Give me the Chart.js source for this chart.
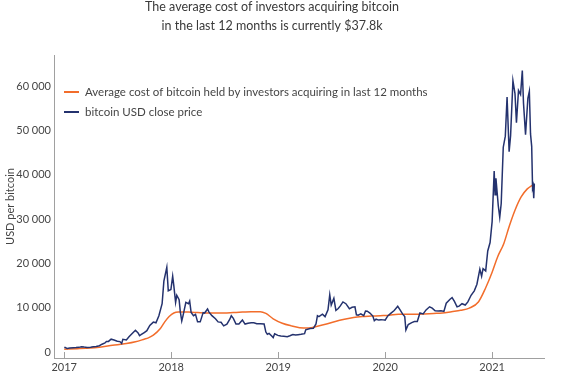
<!DOCTYPE html>
<html>
<head>
<meta charset="utf-8">
<script src="https://cdn.jsdelivr.net/npm/chart.js@4/dist/chart.umd.min.js"></script>
<style>
  html, body { margin: 0; padding: 0; background: #ffffff; }
  #wrap { width: 562px; height: 377px; position: relative; }
</style>
</head>
<body>
<div id="wrap"><canvas id="c" width="562" height="377"></canvas></div>
<script>
// ---------- DATA ----------
const titleLines = ["The average cost of investors acquiring bitcoin", "in the last 12 months is currently $37.8k"];
const yAxisTitle = "USD per bitcoin";
const seriesNames = ["Average cost of bitcoin held by investors acquiring in last 12 months", "bitcoin USD close price"];
const yearLabels = ["2017", "2018", "2019", "2020", "2021"];
const yTickValues = [0, 10000, 20000, 30000, 40000, 50000, 60000];

const btcDates = [
  "2017-01-01","2017-01-05","2017-01-11","2017-01-20","2017-02-01","2017-02-10","2017-02-20","2017-03-01","2017-03-10","2017-03-20",
  "2017-04-01","2017-04-10","2017-04-20","2017-05-01","2017-05-10","2017-05-20","2017-05-25","2017-06-01","2017-06-10","2017-06-20",
  "2017-07-01","2017-07-10","2017-07-16","2017-07-20","2017-08-01","2017-08-10","2017-08-20","2017-09-01","2017-09-10","2017-09-15",
  "2017-09-20","2017-10-01","2017-10-10","2017-10-20","2017-11-01","2017-11-10","2017-11-20","2017-12-01","2017-12-07","2017-12-17",
  "2017-12-22","2017-12-31",
  "2018-01-06","2018-01-10","2018-01-16","2018-01-20","2018-01-28","2018-02-01","2018-02-06","2018-02-10","2018-02-20","2018-03-01",
  "2018-03-05","2018-03-10","2018-03-18","2018-03-25","2018-04-01","2018-04-10","2018-04-20","2018-04-25","2018-05-05","2018-05-10",
  "2018-05-20","2018-06-01","2018-06-10","2018-06-20","2018-06-29","2018-07-10","2018-07-20","2018-07-25","2018-08-01","2018-08-10",
  "2018-08-20","2018-09-01","2018-09-10","2018-09-20","2018-10-01","2018-10-10","2018-10-20","2018-11-01","2018-11-14","2018-11-20",
  "2018-11-25","2018-12-01","2018-12-10","2018-12-15","2018-12-20","2018-12-31",
  "2019-01-10","2019-01-20","2019-02-01","2019-02-10","2019-02-20","2019-03-01","2019-03-10","2019-03-20","2019-04-01","2019-04-05",
  "2019-04-20","2019-05-01","2019-05-10","2019-05-15","2019-05-20","2019-06-01","2019-06-10","2019-06-20","2019-06-26","2019-07-01",
  "2019-07-10","2019-07-17","2019-07-25","2019-08-01","2019-08-10","2019-08-20","2019-09-01","2019-09-10","2019-09-20","2019-09-25",
  "2019-10-01","2019-10-10","2019-10-20","2019-10-26","2019-11-01","2019-11-10","2019-11-20","2019-11-25","2019-12-01","2019-12-10",
  "2019-12-18","2019-12-25",
  "2020-01-01","2020-01-10","2020-01-20","2020-02-01","2020-02-13","2020-02-20","2020-03-01","2020-03-08","2020-03-12","2020-03-20",
  "2020-04-01","2020-04-10","2020-04-20","2020-04-29","2020-05-10","2020-05-20","2020-06-01","2020-06-10","2020-06-20","2020-07-01",
  "2020-07-10","2020-07-20","2020-07-28","2020-08-10","2020-08-17","2020-08-25","2020-09-03","2020-09-10","2020-09-20","2020-10-01",
  "2020-10-10","2020-10-21","2020-11-01","2020-11-10","2020-11-20","2020-11-26","2020-12-01","2020-12-10","2020-12-17","2020-12-25",
  "2021-01-01","2021-01-08","2021-01-11","2021-01-14","2021-01-22","2021-01-27","2021-02-01","2021-02-08","2021-02-15","2021-02-21",
  "2021-02-28","2021-03-05","2021-03-13","2021-03-20","2021-03-25","2021-04-01","2021-04-08","2021-04-14","2021-04-18","2021-04-25",
  "2021-05-03","2021-05-08","2021-05-12","2021-05-16","2021-05-19","2021-05-21","2021-05-23","2021-05-25"
];
const btcClose = [
  998,1013,777,895,970,995,1050,1190,1110,1040,
  1080,1210,1240,1420,1760,2040,2400,2400,2900,2700,
  2420,2350,1930,2850,2720,3430,4100,4900,4300,3700,
  3900,4400,4800,6000,6750,6600,8200,10900,16000,19100,
  13800,14100,
  17100,14900,11200,12800,11800,9100,7000,8100,11200,10900,
  11500,8900,8200,8500,6800,6800,8900,8800,9700,9000,
  8200,7500,6800,6700,5900,6300,7400,8200,7600,6300,
  6300,7200,6300,6500,6600,6600,6400,6350,6300,4500,
  4000,4200,3600,3250,4100,3750,
  3600,3540,3470,3660,3950,3820,3900,4000,4150,5000,
  5300,5350,6350,8200,8000,8550,7980,9500,12900,10600,
  12100,9400,9800,10400,11300,10900,9750,10100,10200,8400,
  8300,8600,8200,9250,9200,8800,8100,7050,7400,7200,
  7300,7250,
  7200,8150,8700,9350,10300,9600,8550,8000,4970,6200,
  6640,6870,6880,8800,8600,9500,10200,9900,9300,9230,
  9300,9160,11000,11900,12250,11400,10200,10350,10900,10600,
  11300,12800,13800,15300,18700,17100,18800,18300,22800,24700,
  29400,40800,35500,39200,33000,30400,33500,46200,48700,57500,
  45200,48800,61200,58300,51700,59000,58100,63500,56200,49000,
  57200,58800,49200,46400,37000,37500,34700,38000
];

const costDates = [
  "2017-01-01","2017-02-15","2017-04-01","2017-05-01","2017-06-15","2017-08-01","2017-09-01","2017-10-01","2017-10-15","2017-11-01",
  "2017-11-25","2017-12-10","2017-12-25","2018-01-10","2018-01-25","2018-03-01","2018-04-01","2018-05-01","2018-06-01","2018-07-01",
  "2018-08-01","2018-09-01","2018-10-01","2018-11-01","2018-11-20","2018-12-15","2019-01-15","2019-02-15","2019-03-15","2019-04-15",
  "2019-05-15","2019-06-15","2019-07-15","2019-08-15","2019-09-15","2019-10-15","2019-11-15","2019-12-15","2020-01-15","2020-02-15",
  "2020-03-15","2020-04-15","2020-05-15","2020-06-15","2020-07-15","2020-08-15","2020-09-15","2020-10-15","2020-11-15","2020-12-10",
  "2021-01-01","2021-01-20","2021-02-10","2021-03-01","2021-03-20","2021-04-10","2021-05-01","2021-05-15","2021-05-25"
];
const costValues = [
  650,750,900,1100,1500,1900,2300,2900,3200,3800,
  5300,6800,8000,8800,9000,9000,8900,8800,8800,8800,
  8900,9000,9100,9100,8700,7500,6500,5900,5500,5400,
  5800,6300,6900,7400,7800,8000,8100,8200,8300,8500,
  8500,8500,8600,8700,8800,9100,9400,9900,11300,14500,
  18000,21500,24500,28500,32000,35000,36800,37500,37800
];

// ---------- HELPERS ----------
function toYear(s) {
  const [y, m, d] = s.split('-').map(Number);
  const start = Date.UTC(y, 0, 1), end = Date.UTC(y + 1, 0, 1);
  return y + (Date.UTC(y, m - 1, d) - start) / (end - start);
}
function fmtNum(v) {
  return String(v).replace(/\B(?=(\d{3})+(?!\d))/g, ' ');
}

const ORANGE = '#f26d2b';
const NAVY = '#24326e';
const TEXT = '#454545';
const AXIS = '#a0a0a0';
const FONT = 'Lato, "Open Sans", sans-serif';

const btcPoints = btcDates.map((d, i) => ({ x: toYear(d), y: btcClose[i] }));
const costPoints = costDates.map((d, i) => ({ x: toYear(d), y: costValues[i] }));
const yearTicks = yearLabels.map(Number);

// custom legend drawn inside chart area
const innerLegend = {
  id: 'innerLegend',
  afterDraw(chart) {
    const ctx = chart.ctx;
    const items = [
      { text: seriesNames[0], color: ORANGE },
      { text: seriesNames[1], color: NAVY }
    ];
    ctx.save();
    ctx.font = '11.5px ' + FONT;
    ctx.textBaseline = 'middle';
    items.forEach((it, i) => {
      const y = 92 + i * 20;
      ctx.strokeStyle = it.color;
      ctx.lineWidth = 2;
      ctx.beginPath();
      ctx.moveTo(64, y);
      ctx.lineTo(79, y);
      ctx.stroke();
      ctx.fillStyle = TEXT;
      ctx.fillText(it.text, 85, y);
    });
    ctx.restore();
  }
};

// inward tick marks on the x axis
const innerTicks = {
  id: 'innerTicks',
  afterDraw(chart) {
    const xs = chart.scales.x;
    const ctx = chart.ctx;
    ctx.save();
    ctx.strokeStyle = AXIS;
    ctx.lineWidth = 1;
    xs.ticks.forEach(t => {
      const px = Math.round(xs.getPixelForValue(t.value)) + 0.5;
      ctx.beginPath();
      ctx.moveTo(px, xs.top);
      ctx.lineTo(px, xs.top - 6);
      ctx.stroke();
    });
    ctx.restore();
  }
};

new Chart(document.getElementById('c'), {
  type: 'line',
  data: {
    datasets: [
      {
        label: seriesNames[1],
        data: btcPoints,
        borderColor: NAVY,
        borderWidth: 1.5,
        pointRadius: 0,
        tension: 0,
        order: 0
      },
      {
        label: seriesNames[0],
        data: costPoints,
        borderColor: ORANGE,
        borderWidth: 1.5,
        pointRadius: 0,
        tension: 0.4,
        cubicInterpolationMode: 'monotone',
        order: 1
      }
    ]
  },
  options: {
    responsive: false,
    animation: false,
    layout: { padding: { top: -3, right: 18, left: 0, bottom: 0 } },
    plugins: {
      legend: { display: false },
      tooltip: { enabled: false },
      title: {
        display: true,
        text: titleLines,
        color: '#3a3a3a',
        font: { family: FONT, size: 12.5, lineHeight: '19px', weight: 'normal' },
        padding: { top: 0, bottom: 20 }
      }
    },
    scales: {
      x: {
        type: 'linear',
        min: toYear('2016-11-27'),
        max: toYear('2021-06-27'),
        grid: { display: false, drawTicks: false },
        border: { display: true, color: AXIS, width: 1 },
        afterBuildTicks(scale) { scale.ticks = yearTicks.map(v => ({ value: v })); },
        afterFit(scale) { scale.height = 19; scale.paddingLeft = 0; scale.paddingRight = 0; },
        ticks: {
          color: TEXT,
          font: { family: FONT, size: 11 },
          padding: 3,
          maxRotation: 0,
          autoSkip: false,
          callback: (v) => yearLabels[yearTicks.indexOf(v)] ?? ''
        }
      },
      y: {
        type: 'linear',
        min: -1350,
        max: 67000,
        grid: { display: false, drawTicks: false },
        border: { display: true, color: AXIS, width: 1 },
        afterBuildTicks(scale) { scale.ticks = yTickValues.map(v => ({ value: v })); },
        afterFit(scale) { scale.width = 54; scale.paddingTop = 0; scale.paddingBottom = 0; },
        title: {
          display: true,
          text: yAxisTitle,
          color: TEXT,
          font: { family: FONT, size: 11 },
          padding: { top: 4, bottom: 0 }
        },
        ticks: {
          color: TEXT,
          font: { family: FONT, size: 11 },
          padding: 3,
          callback: (v) => fmtNum(v)
        }
      }
    }
  },
  plugins: [innerLegend, innerTicks]
});
</script>
</body>
</html>
